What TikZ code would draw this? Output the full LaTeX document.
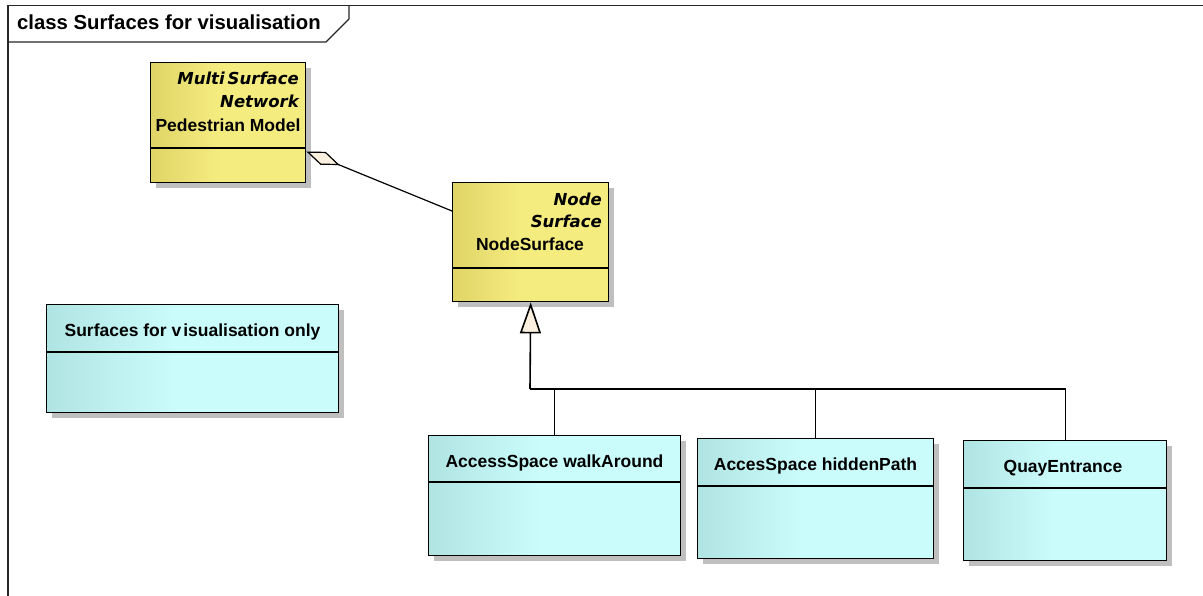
\documentclass[tikz,border=0pt]{standalone}
\usepackage{fontspec}
\setmainfont{Liberation Sans}
\newfontfamily\stfont{DejaVu Sans}
\usetikzlibrary{shadows,arrows.meta}
\definecolor{ydark}{RGB}{224,212,102}
\definecolor{ylight}{RGB}{245,236,128}
\definecolor{cdark}{RGB}{176,228,226}
\definecolor{clight}{RGB}{202,252,252}
\definecolor{cream}{RGB}{251,240,224}
\pgfdeclarehorizontalshading{yelshade}{100bp}{color(0bp)=(ydark); color(25bp)=(ydark); color(47bp)=(ylight); color(100bp)=(ylight)}
\pgfdeclarehorizontalshading{cyanshade}{100bp}{color(0bp)=(cdark); color(25bp)=(cdark); color(47bp)=(clight); color(100bp)=(clight)}
\tikzset{
  cls/.style={draw=black, line width=1.4pt, inner sep=0pt, anchor=north west,
    drop shadow={shadow xshift=5pt, shadow yshift=-5pt, opacity=1, fill=black!25}},
  yel/.style={cls, shade, shading=yelshade},
  cyn/.style={cls, shade, shading=cyanshade},
  nm/.style={font=\bfseries\fontsize{17.5}{17.5}\selectfont, inner sep=0pt},
  st/.style={font=\stfont\bfseries\itshape\fontsize{16.5}{16.5}\selectfont, inner sep=0pt, anchor=base east},
  sepline/.style={line width=1.2pt},
  link/.style={line width=1.2pt},
  frameline/.style={line width=1.3pt, draw=black!85},
}
\begin{document}
\begin{tikzpicture}[x=1pt, y=-1pt]
\useasboundingbox (0,0) rectangle (1203,596);
% frame
\draw[frameline] (8,600) -- (8,5.5) -- (1206,5.5);
\draw[frameline] (349,5.5) -- (349,19) -- (326,42) -- (8,42);
\node[font=\bfseries\fontsize{20.3}{20.3}\selectfont, anchor=base west, inner sep=0pt] (title) at (17,29.5) {class Surfaces for visualisation};
% boxes
\node[yel, minimum width=155pt, minimum height=120pt] (ms) at (150,62) {};
\node[yel, minimum width=156pt, minimum height=119pt] (ns) at (452,182) {};
\node[cyn, minimum width=292pt, minimum height=108pt] (vo) at (46,304) {};
\node[cyn, minimum width=252pt, minimum height=120pt] (wa) at (428,435) {};
\node[cyn, minimum width=236pt, minimum height=120pt] (hp) at (697,438) {};
\node[cyn, minimum width=203pt, minimum height=120pt] (qe) at (963,440) {};
% separators
\draw[sepline] (ms.west |- 0,148) -- (ms.east |- 0,148);
\draw[sepline] (ns.west |- 0,268) -- (ns.east |- 0,268);
\draw[sepline] (vo.west |- 0,352) -- (vo.east |- 0,352);
\draw[sepline] (wa.west |- 0,482) -- (wa.east |- 0,482);
\draw[sepline] (hp.west |- 0,486) -- (hp.east |- 0,486);
\draw[sepline] (qe.west |- 0,488) -- (qe.east |- 0,488);
% texts
\node[st] (ms1) at (299,85) {Multi\kern3pt Surface};
\node[st] (ms2) at (299,108) {Network};
\node[nm, anchor=base] (ms3) at (228,131.5) {Pedestrian Model};
\node[st] (ns1) at (602,206) {Node};
\node[st] (ns2) at (602,227.5) {Surface};
\node[nm, anchor=base] (ns3) at (530,251) {NodeSurface};
\node[nm, anchor=base] (vot) at (192.5,337) {Surfaces for v\kern2pt isualisation only};
\node[nm, anchor=base] (wat) at (554.5,467) {AccessSpace walkAround};
\node[nm, anchor=base] (hpt) at (815.5,470) {AccesSpace hiddenPath};
\node[nm, anchor=base] (qet) at (1063,472) {QuayEntrance};
% aggregation
\draw[link, {Diamond[open, fill=cream, length=36pt, width=14pt]}-] (ms.east |- 0,151.5) -- (ns.west |- 0,211);
% generalization
\coordinate (j) at (530,389);
\draw[link] (wa.north) |- (j);
\draw[link] (hp.north) |- (j);
\draw[link] (qe.north) |- (j);
\draw[line width=1.6pt] (j) -- (qe.north |- j);
\draw[line width=1.6pt, -{Triangle[open, fill=cream, length=31pt, width=21pt]}] (j) -- (ns.south);
\end{tikzpicture}
\end{document}
